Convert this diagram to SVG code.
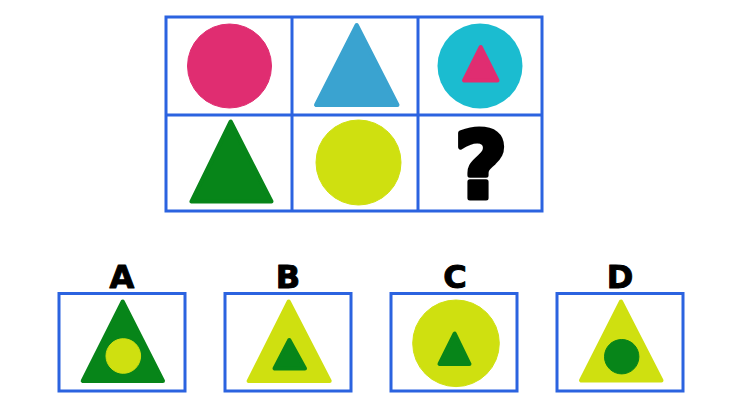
<svg xmlns="http://www.w3.org/2000/svg" width="733" height="405" viewBox="0 0 733 405">
<style>
.box{fill:#fff;stroke:#2b63e0;stroke-width:3}
.tri{stroke-linejoin:round;stroke-width:4}
.pink{fill:#e02d71;stroke:#e02d71}
.blue{fill:#3aa3d0;stroke:#3aa3d0}
.cyan{fill:#1bbcd0}
.green{fill:#078519;stroke:#078519}
.yellow{fill:#cfe010;stroke:#cfe010}
.lbl{font-family:"DejaVu Sans",sans-serif;font-weight:bold;font-size:32px;fill:#000;stroke:#000;stroke-width:1;stroke-linejoin:round;text-anchor:middle}
</style>
<rect width="733" height="405" fill="#fff"/>
<g id="grid">
<rect class="box" x="166" y="17" width="376" height="194"/>
<line class="box" x1="166" y1="115" x2="542" y2="115"/>
<line class="box" x1="292" y1="17" x2="292" y2="211"/>
<line class="box" x1="418" y1="17" x2="418" y2="211"/>
</g>
<g id="cell1"><circle class="pink" cx="229.5" cy="66" r="42" stroke="none"/></g>
<g id="cell2"><polygon class="tri blue" points="356.7,25 316,105 397.5,105"/></g>
<g id="cell3"><circle class="cyan" cx="480" cy="66" r="42.5"/><polygon class="tri pink" points="480.7,47 464,80.5 497.5,80.5"/></g>
<g id="cell4"><polygon class="tri green" points="230.7,121.5 191.5,201.5 271.5,201.5"/></g>
<g id="cell5"><circle class="yellow" cx="358.5" cy="162.5" r="42.5" stroke="none"/></g>
<g id="cell6"><text x="481" y="198" font-family="DejaVu Sans,sans-serif" font-weight="bold" font-size="92" text-anchor="middle" fill="#000" stroke="#000" stroke-width="5" stroke-linejoin="round">?</text></g>
<g id="optA">
<text class="lbl" x="122" y="288">A</text>
<rect class="box" x="59" y="293.5" width="126" height="97.5"/>
<polygon class="tri green" points="122.7,301.5 82.7,381 163,381"/>
<circle class="yellow" cx="123.3" cy="356" r="17.3" stroke="none"/>
</g>
<g id="optB">
<text class="lbl" x="288" y="288">B</text>
<rect class="box" x="225" y="293.5" width="126" height="97.5"/>
<polygon class="tri yellow" points="288.7,301.5 248.7,381 329.7,381"/>
<polygon class="tri green" points="289.3,340 274.5,368.5 305,368.5"/>
</g>
<g id="optC">
<text class="lbl" x="455" y="288">C</text>
<rect class="box" x="391" y="293.5" width="126" height="97.5"/>
<circle class="yellow" cx="456" cy="343.3" r="43.3" stroke="none"/>
<polygon class="tri green" points="454.7,333.5 439.5,364 469.5,364"/>
</g>
<g id="optD">
<text class="lbl" x="620" y="288">D</text>
<rect class="box" x="557" y="293.5" width="126" height="97.5"/>
<polygon class="tri yellow" points="621,301.5 581,380.5 661.5,380.5"/>
<circle class="green" cx="621.7" cy="356.7" r="17.2" stroke="none"/>
</g>
</svg>
